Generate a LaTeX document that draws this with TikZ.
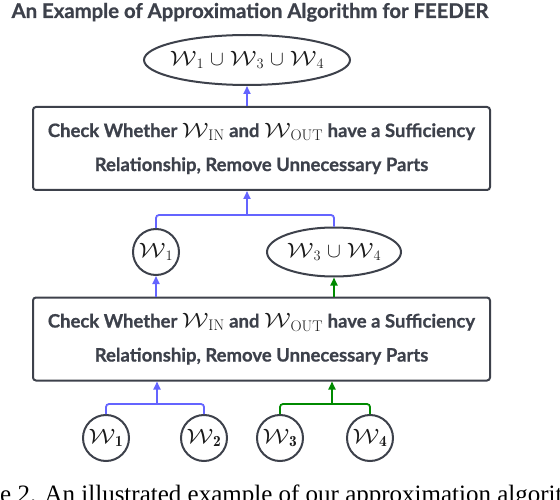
\documentclass[tikz,border=0pt]{standalone}
\usepackage{fontspec}
\usepackage{graphicx}
\usetikzlibrary{arrows.meta,shapes.geometric,calc}
\newfontfamily\latofont[BoldFeatures={FakeBold=0.8}]{Lato}
\newfontfamily\capfont{Liberation Serif}
\definecolor{ink}{HTML}{3D414B}
\definecolor{mathink}{HTML}{1A1A1A}
\definecolor{bl}{HTML}{6464FF}
\definecolor{gr}{HTML}{008A00}
\newcommand\Wcal{\scalebox{1.2}[1]{$\mathcal{W}$}}
\newcommand\WW[1]{{\fontsize{22}{22}\selectfont\color{mathink}\Wcal$_{#1}$}}
\newcommand\UU{{\fontsize{22}{22}\selectfont\color{mathink}\hspace{6pt}$\cup$\hspace{6pt}}}
\begin{document}
\begin{tikzpicture}[x=1pt,y=-1pt,
  every node/.style={text=ink},
  shp/.style={draw=ink,line width=2pt,inner sep=0pt},
  circ/.style={shp,circle,minimum size=46pt},
  ell/.style={shp,ellipse},
  procbox/.style={shp,rectangle,rounded corners=3pt,minimum width=457pt,minimum height=83pt,
     align=center,font=\latofont\bfseries\fontsize{18.5}{34}\selectfont},
  conn/.style={line width=1.8pt,rounded corners=3pt},
  arr/.style={line width=1.8pt,-{Triangle[length=8pt,width=7pt]}}
]
\useasboundingbox (0,0) rectangle (560,500);
\clip (0,0) rectangle (560,500);
% title
\node[anchor=base,font=\latofont\bfseries\fontsize{20.3}{20}\selectfont] (title) at (250,18)
  {An Example of Approximation Algorithm for FEEDER};
% top result
\node[ell,minimum width=206pt,minimum height=50pt] (top) at (247,60)
  {\makebox[0pt]{\WW{1}\UU\WW{3}\UU\WW{4}}};
% box 1
\node[procbox] (box1) at (261.5,148.5)
  {Check Whether \WW{\mathrm{IN}} and \WW{\mathrm{OUT}} have a Sufficiency\\
   Relationship, Remove Unnecessary Parts};
% middle layer
\node[circ] (m1) at (156,252) {\makebox[0pt]{\WW{1}}};
\node[ell,minimum width=134pt,minimum height=49pt] (m34) at (334,252)
  {\makebox[0pt]{\WW{3}\UU\WW{4}}};
% box 2
\node[procbox] (box2) at (261.5,339)
  {Check Whether \WW{\mathrm{IN}} and \WW{\mathrm{OUT}} have a Sufficiency\\
   Relationship, Remove Unnecessary Parts};
% bottom layer
\node[circ] (b1) at (106,438) {\makebox[0pt]{\WW{\mathbf{1}}}};
\node[circ] (b2) at (204,438) {\makebox[0pt]{\WW{\mathbf{2}}}};
\node[circ] (b3) at (280,438) {\makebox[0pt]{\WW{\mathbf{3}}}};
\node[circ] (b4) at (370,438) {\makebox[0pt]{\WW{\mathbf{4}}}};
% junctions
\coordinate (jb) at (157,404);
\coordinate (jg) at (332,404);
\coordinate (jm) at (247,215);
% bottom connectors
\draw[conn,bl] (b1.north) |- (jb) -| (b2.north);
\draw[arr,bl] (jb) -- (jb |- box2.south);
\draw[conn,gr] (b3.north) |- (jg) -| (b4.north);
\draw[arr,gr] (jg) -- (jg |- box2.south);
% box2 to middle
\draw[arr,bl] (m1 |- box2.north) -- (m1.south);
\draw[arr,gr] (m34 |- box2.north) -- (m34.south);
% middle to box1
\draw[conn,bl] (m1.north) |- (jm) -| (m34.north);
\draw[arr,bl] (jm) -- (jm |- box1.south);
% box1 to top
\draw[arr,bl] (top |- box1.north) -- (top.south);
% caption (cut by the frame)
\node[anchor=base west,inner sep=0pt,font=\capfont\fontsize{25}{26}\selectfont,text=black] (cap) at (0,502)
  {\llap{Figur}e 2. An illustrated example of our approximation algorithm};
\end{tikzpicture}
\end{document}
